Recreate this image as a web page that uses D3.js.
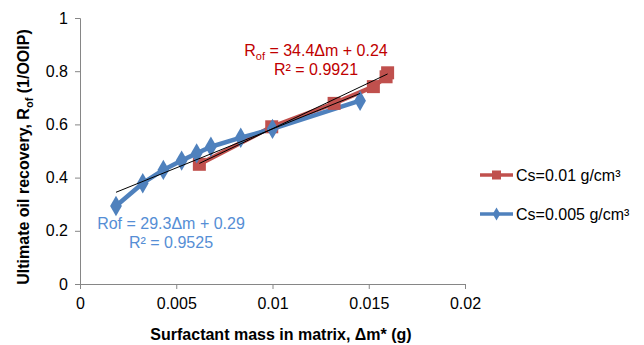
<!DOCTYPE html>
<html>
<head>
<meta charset="utf-8">
<script src="https://cdn.jsdelivr.net/npm/d3@7"></script>
<style>
  body { margin: 0; background: #fff; }
  svg { font-family: Arial, "Liberation Sans", sans-serif; }
</style>
</head>
<body>
<svg id="chart" width="644" height="345"></svg>
<script>
// values
const blueX = [0.00187, 0.00326, 0.00433, 0.00528, 0.00606, 0.0068, 0.00835, 0.0100, 0.01455];
const blueY = [0.293, 0.379, 0.429, 0.464, 0.491, 0.516, 0.550, 0.583, 0.689];
const redX = [0.0062, 0.00996, 0.0132, 0.01524, 0.0159, 0.01598];
const redY = [0.450, 0.591, 0.679, 0.742, 0.779, 0.794];
const xTicks = [0, 0.005, 0.01, 0.015, 0.02];
const yTicks = [0, 0.2, 0.4, 0.6, 0.8, 1];
const redFit = { slope: 34.4, icpt: 0.24 };
const blueFit = { slope: 29.3, icpt: 0.29 };

const svg = d3.select("#chart");
const x = d3.scaleLinear().domain([0, 0.02]).range([80, 465]);
const y = d3.scaleLinear().domain([0, 1]).range([284, 18]);

const axisColor = "#868686";
const red = "#c0504d", blue = "#4f81bd";

// axes
const xAxis = svg.append("g").attr("transform", `translate(0,${y(0)})`)
    .call(d3.axisBottom(x).tickValues(xTicks).tickSize(5).tickFormat(d => d === 0 ? "0" : String(+d.toFixed(3))));
const yAxis = svg.append("g").attr("transform", `translate(${x(0)},0)`)
    .call(d3.axisLeft(y).tickValues(yTicks).tickSize(5).tickFormat(d => String(+d.toFixed(1))));
[xAxis, yAxis].forEach(a => {
    a.selectAll("path, line").attr("stroke", axisColor);
    a.selectAll("text").attr("fill", "#000").style("font-size", "16px");
});
xAxis.selectAll("text").attr("dy", "1.05em");
yAxis.selectAll("text").attr("dx", "-0.25em");

const blue_pts = blueX.map((v, i) => [v, blueY[i]]);
const red_pts = redX.map((v, i) => [v, redY[i]]);
const line = d3.line().x(d => x(d[0])).y(d => y(d[1]));

// series lines
svg.append("path").datum(red_pts).attr("d", line)
    .attr("fill", "none").attr("stroke", red).attr("stroke-width", 4.5).attr("stroke-linejoin", "round");
svg.append("path").datum(blue_pts).attr("d", line)
    .attr("fill", "none").attr("stroke", blue).attr("stroke-width", 4.5).attr("stroke-linejoin", "round");

// markers
svg.selectAll(".sq").data(red_pts).enter().append("rect")
    .attr("x", d => x(d[0]) - 6.5).attr("y", d => y(d[1]) - 6.5)
    .attr("width", 13).attr("height", 13).attr("fill", red);
const diamond = d3.symbol().type(d3.symbolDiamond).size(120);
svg.selectAll(".dm").data(blue_pts).enter().append("path")
    .attr("d", diamond)
    .attr("transform", d => `translate(${x(d[0])},${y(d[1])})`)
    .attr("fill", blue);

// trendlines
function trend(fit, xs) {
    const x0 = d3.min(xs), x1 = d3.max(xs);
    svg.append("line")
        .attr("x1", x(x0)).attr("y1", y(fit.slope * x0 + fit.icpt))
        .attr("x2", x(x1)).attr("y2", y(fit.slope * x1 + fit.icpt))
        .attr("stroke", "#000").attr("stroke-width", 1);
}
trend(blueFit, blueX);
trend(redFit, redX);

// equation labels
const redLbl = svg.append("text").attr("x", 316).attr("y", 56).attr("text-anchor", "middle")
    .attr("fill", "#c00000").style("font-size", "16px");
redLbl.append("tspan").text("R");
redLbl.append("tspan").text("of").attr("dy", 4).style("font-size", "11px");
redLbl.append("tspan").text(" = 34.4Δm + 0.24").attr("dy", -4);
svg.append("text").attr("x", 316).attr("y", 75).attr("text-anchor", "middle")
    .attr("fill", "#c00000").style("font-size", "16px").text("R² = 0.9921");

svg.append("text").attr("x", 171).attr("y", 229).attr("text-anchor", "middle")
    .attr("fill", "#558ed5").style("font-size", "16px").text("Rof = 29.3Δm + 0.29");
svg.append("text").attr("x", 171).attr("y", 248).attr("text-anchor", "middle")
    .attr("fill", "#558ed5").style("font-size", "16px").text("R² = 0.9525");

// axis titles
svg.append("text").attr("x", 281).attr("y", 340).attr("text-anchor", "middle")
    .style("font-size", "16px").style("font-weight", "bold").text("Surfactant mass in matrix, Δm* (g)");
const yt = svg.append("text").attr("transform", "translate(29,157) rotate(-90)")
    .attr("text-anchor", "middle").style("font-size", "16px").style("font-weight", "bold");
yt.append("tspan").text("Ultimate oil recovery, R");
yt.append("tspan").text("of").attr("dy", 4).style("font-size", "11px");
yt.append("tspan").text(" (1/OOIP)").attr("dy", -4);

// legend
const legend = [
    { label: "Cs=0.01 g/cm³", color: red, shape: "sq", y: 175 },
    { label: "Cs=0.005 g/cm³", color: blue, shape: "dm", y: 214 }
];
legend.forEach(l => {
    svg.append("line").attr("x1", 480).attr("x2", 513).attr("y1", l.y).attr("y2", l.y)
        .attr("stroke", l.color).attr("stroke-width", 3.5);
    if (l.shape === "sq") {
        svg.append("rect").attr("x", 492).attr("y", l.y - 4.5).attr("width", 9).attr("height", 9).attr("fill", l.color);
    } else {
        svg.append("path").attr("d", d3.symbol().type(d3.symbolDiamond).size(50))
            .attr("transform", `translate(496.5,${l.y})`).attr("fill", l.color);
    }
    svg.append("text").attr("x", 516).attr("y", l.y + 5.5).style("font-size", "16px").text(l.label);
});
</script>
</body>
</html>
